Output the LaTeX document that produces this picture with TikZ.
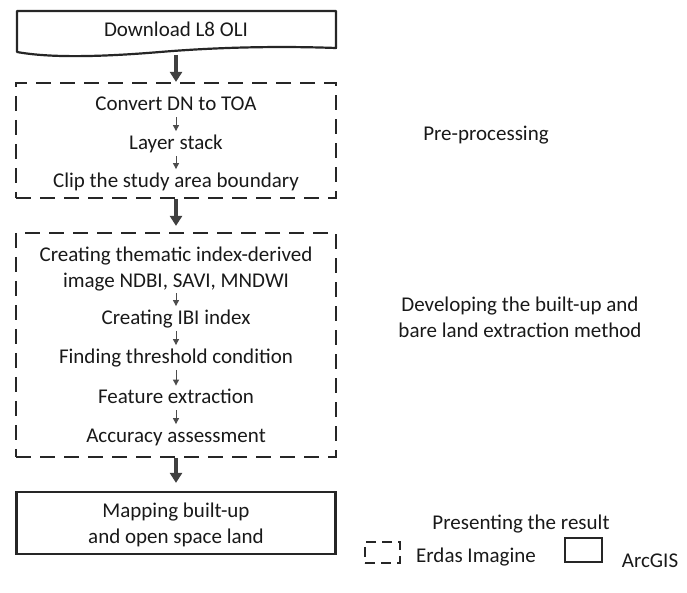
\documentclass[tikz,border=0pt]{standalone}
\usepackage{fontspec}
\setmainfont{Carlito}
\usepackage{tikz}
\usetikzlibrary{positioning,arrows.meta}

\begin{document}
\begin{tikzpicture}[x=0.5pt, y=-0.5pt,
    txt/.style={font=\fontsize{10.5}{13}\selectfont, text=black!90, inner sep=1pt, align=center},
    oneline/.style={txt, text height=8pt, text depth=2pt},
    erdasbox/.style={draw=black!85, line width=1.1pt, dash pattern=on 7.5pt off 4.5pt},
    arcbox/.style={draw=black!85, line width=1.1pt},
    bigarrow/.style={draw=black!75, line width=2pt, -{Triangle[width=6pt,length=5pt]}},
    smallarrow/.style={draw=black!70, line width=0.5pt, -{Triangle[width=3pt,length=3pt]}}]
    \useasboundingbox (0,0) rectangle (687,593);

    % Download - document shape
    \draw[arcbox, line join=round] (17,11) -- (336,11) -- (336,48)
        .. controls (280,46) and (220,47) .. (160,52)
        .. controls (100,57) and (50,58) .. (17,52) -- cycle;
    \node[oneline] (dl) at (176,31) {Download L8 OLI};
    \coordinate (dlbot) at (176,55);

    % Pre-processing box
    \node[erdasbox, minimum width=160pt, minimum height=57.5pt] (pre) at (176,140.5) {};
    \node[oneline] (cv) at (176,105) {Convert DN to TOA};
    \node[oneline] (ls) at (176,143.5) {Layer stack};
    \node[oneline] (cl) at (176,181.5) {Clip the study area boundary};

    % Developing box
    \node[erdasbox, minimum width=160pt, minimum height=112pt] (dev) at (176,345) {};
    \node[txt] (th) at (176,269) {Creating thematic index-derived\\image NDBI, SAVI, MNDWI};
    \node[oneline] (ibi) at (176,318.5) {Creating IBI index};
    \node[oneline] (thr) at (176,357.5) {Finding threshold condition};
    \node[oneline] (fe) at (176,398) {Feature extraction};
    \node[oneline] (acc) at (176,436.5) {Accuracy assessment};

    % Mapping box
    \node[arcbox, minimum width=159.5pt, minimum height=31pt] (mapbox) at (176,523) {};
    \node[txt] (map) at (176,524.5) {Mapping built-up\\and open space land};

    % Arrows between the stages
    \draw[bigarrow] (dlbot) -- (pre.north);
    \draw[bigarrow, shorten >=3pt] (pre.south) -- (dev.north);
    \draw[bigarrow, shorten >=4pt] (dev.south) -- (mapbox.north);
    \foreach \a/\b in {cv/ls, ls/cl, th/ibi, ibi/thr, thr/fe, fe/acc}
        \draw[smallarrow] (\a) -- (\b);

    % Stage names on the right
    \node[oneline] (lpre) at (486,135) {Pre-processing};
    \node[txt] (ldev) at (520,317.5) {Developing the built-up and\\bare land extraction method};
    \node[oneline] (lres) at (521,524) {Presenting the result};

    % Legend
    \node[erdasbox, line width=0.8pt, dash pattern=on 5pt off 3pt, minimum width=17.5pt, minimum height=10.5pt] (lgE) at (382.5,552.5) {};
    \node[txt, anchor=base] (tE) at (476,563) {Erdas Imagine};
    \node[arcbox, line width=0.8pt, minimum width=18.5pt, minimum height=12pt] (lgA) at (583.5,550) {};
    \node[txt, anchor=base] (tA) at (650,568) {ArcGIS};
\end{tikzpicture}
\end{document}
